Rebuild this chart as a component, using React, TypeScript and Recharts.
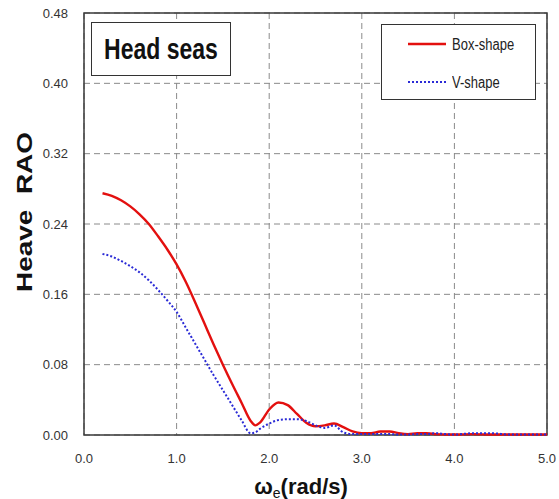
import {
  LineChart,
  Line,
  XAxis,
  YAxis,
  CartesianGrid,
  ReferenceArea,
} from "recharts";

// wave frequency (rad/s)
const OMEGA = [
  0.2, 0.3, 0.4, 0.5, 0.6, 0.7, 0.8, 0.9, 1.0, 1.1, 1.2, 1.3, 1.4, 1.5, 1.6, 1.7, 1.8,
  1.85, 1.9, 2.0, 2.1, 2.2, 2.3, 2.4, 2.5, 2.6, 2.7, 2.8, 2.9, 3.0, 3.1, 3.2, 3.3, 3.4,
  3.5, 3.6, 3.7, 3.8, 3.9, 4.0, 4.2, 4.4, 4.6, 4.8, 5.0,
];

const BOX_SHAPE = [
  0.275, 0.272, 0.267, 0.26, 0.251, 0.24, 0.226, 0.211, 0.194, 0.174, 0.151, 0.127,
  0.103, 0.08, 0.058, 0.037, 0.016, 0.011, 0.014, 0.029, 0.037, 0.034, 0.024, 0.014,
  0.01, 0.011, 0.013, 0.009, 0.004, 0.002, 0.002, 0.004, 0.004, 0.002, 0.001, 0.002,
  0.002, 0.001, 0.0005, 0.0005, 0.001, 0.0005, 0.0005, 0.0005, 0.0005,
];

const V_SHAPE = [
  0.206, 0.203, 0.198, 0.192, 0.185, 0.176, 0.165, 0.153, 0.14, 0.122, 0.104, 0.086,
  0.068, 0.051, 0.034, 0.017, 0.002, 0.003, 0.007, 0.013, 0.017, 0.018, 0.018, 0.016,
  0.011, 0.008, 0.011, 0.003, 0.001, 0.001, 0.001, 0.001, 0.001, 0.0005, 0.0005,
  0.001, 0.001, 0.002, 0.001, 0.0005, 0.002, 0.002, 0.0005, 0.0005, 0.0005,
];

const X_TICKS = [0, 1, 2, 3, 4, 5];
const Y_TICKS = [0, 0.08, 0.16, 0.24, 0.32, 0.4, 0.48];

const SERIES = [
  { key: "box", name: "Box-shape", color: "#e3100f", dash: undefined, width: 2.4 },
  { key: "v", name: "V-shape", color: "#2b2bd6", dash: "2 2", width: 2 },
];

const data = OMEGA.map((w, i) => ({ w, box: BOX_SHAPE[i], v: V_SHAPE[i] }));

const FONT = '"Liberation Sans", Arial, sans-serif';
const TICK = { fontSize: 13, fill: "#333", fontFamily: FONT };

function LegendBox() {
  return (
    <div
      style={{
        position: "absolute",
        left: 381,
        top: 24,
        width: 155,
        height: 76,
        border: "1.5px solid #333",
        background: "#fff",
        fontFamily: FONT,
        fontSize: 13,
        color: "#222",
        boxSizing: "border-box",
        paddingTop: 0,
      }}
    >
      {SERIES.map((s) => (
        <div
          key={s.key}
          style={{ display: "flex", alignItems: "center", height: 38, paddingLeft: 26 }}
        >
          <svg width={40} height={6} style={{ marginRight: 4 }}>
            <line
              x1={0}
              y1={3}
              x2={38}
              y2={3}
              stroke={s.color}
              strokeWidth={s.width}
              strokeDasharray={s.dash}
            />
          </svg>
          <span style={{ display: "inline-block", transform: "scaleY(1.2)" }}>{s.name}</span>
        </div>
      ))}
    </div>
  );
}

export default function App() {
  return (
    <div style={{ position: "absolute", left: 0, top: 0, width: 559, height: 499, background: "#fff" }}>
      <LineChart
        width={559}
        height={499}
        data={data}
        margin={{ top: 13, right: 12, bottom: 34, left: 24 }}
      >
        <CartesianGrid stroke="#8a8a8a" strokeDasharray="6 4" strokeWidth={1} />
        <XAxis
          dataKey="w"
          type="number"
          domain={[0, 5]}
          ticks={X_TICKS}
          tickFormatter={(v: number) => v.toFixed(1)}
          tick={TICK}
          tickLine={false}
          axisLine={false}
          tickSize={0}
          tickMargin={19}
          interval={0}
          height={30}
        />
        <YAxis
          type="number"
          domain={[0, 0.48]}
          ticks={Y_TICKS}
          tickFormatter={(v: number) => v.toFixed(2)}
          tick={TICK}
          tickLine={false}
          axisLine={false}
          tickSize={0}
          tickMargin={16}
          width={60}
          interval={0}
        />
        <ReferenceArea
          x1={0}
          x2={5}
          y1={0}
          y2={0.48}
          fill="none"
          stroke="#3a3a3a"
          strokeWidth={1.5}
          fillOpacity={0}
        />
        {SERIES.map((s) => (
          <Line
            key={s.key}
            dataKey={s.key}
            name={s.name}
            type="monotone"
            stroke={s.color}
            strokeWidth={s.width}
            strokeDasharray={s.dash}
            dot={false}
            isAnimationActive={false}
          />
        ))}
      </LineChart>

      <LegendBox />

      <div
        style={{
          position: "absolute",
          left: 91,
          top: 22,
          width: 140,
          height: 54,
          border: "1.5px solid #333",
          boxSizing: "border-box",
          background: "#fff",
          display: "flex",
          alignItems: "center",
          justifyContent: "center",
          fontFamily: FONT,
          fontWeight: "bold",
          fontSize: 23,
          color: "#111",
        }}
      >
        <span style={{ display: "inline-block", transform: "scaleY(1.3)" }}>Head seas</span>
      </div>

      <div
        style={{
          position: "absolute",
          left: 25,
          top: 212,
          transform: "translate(-50%, -50%) rotate(-90deg) scaleX(1.27)",
          whiteSpace: "pre",
          fontFamily: FONT,
          fontWeight: "bold",
          fontSize: 22,
          color: "#111",
        }}
      >
        Heave  RAO
      </div>

      <div
        style={{
          position: "absolute",
          left: 301,
          top: 487,
          transform: "translate(-50%, -50%)",
          whiteSpace: "nowrap",
          fontFamily: FONT,
          fontWeight: "bold",
          fontSize: 22,
          color: "#111",
        }}
      >
        ω<span style={{ fontSize: 14, fontWeight: "normal", verticalAlign: "-4px" }}>e</span>(rad/s)
      </div>
    </div>
  );
}
